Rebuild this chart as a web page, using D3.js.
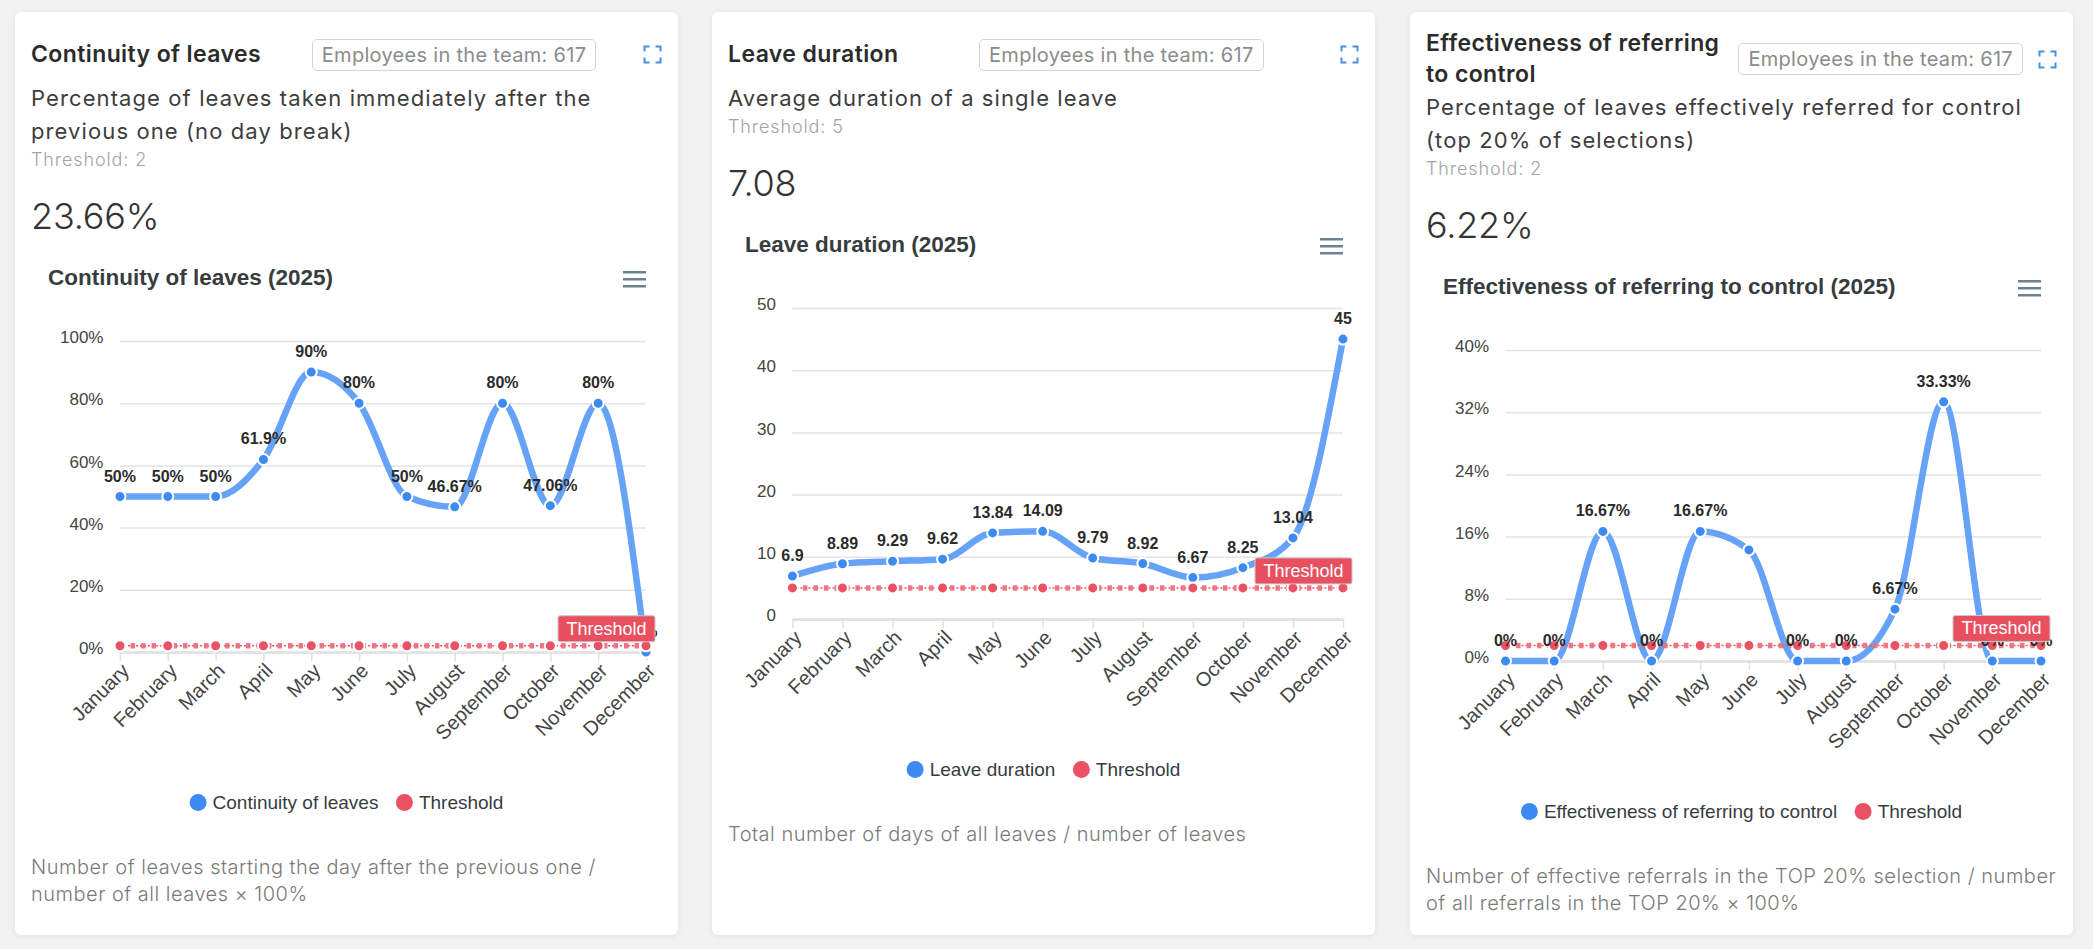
<!DOCTYPE html>
<html>
<head>
<meta charset="utf-8">
<script src="https://cdn.jsdelivr.net/npm/d3@7"></script>
<style>
  body { margin: 0; width: 2093px; height: 949px; overflow: hidden; background: #f2f2f2;
         font-family: Inter, "Open Sans", sans-serif; }
  .card { position: absolute; top: 12px; width: 663px; height: 923px; box-sizing: border-box;
          padding: 16px; background: #fff; border-radius: 6px; box-shadow: 0 1px 6px rgba(0,0,0,0.07); }
  .head { display: flex; align-items: center; justify-content: space-between; min-height: 53px; }
  .title { font-size: 23px; font-weight: 600; line-height: 31px; color: #2b2b2b; margin-right: 4px;
           letter-spacing: 0.4px; }
  .badge { flex: none; height: 32px; box-sizing: border-box; border: 1px solid #d4d4d4; border-radius: 5px;
           padding: 0 9px; font-size: 20px; line-height: 30px; color: #8b8b8b; letter-spacing: 0.3px; }
  .expand { flex: none; }
  .sub { font-size: 22px; line-height: 33px; color: #3d3d3d; margin-top: 1px; letter-spacing: 1.1px; }
  .thr { font-size: 18px; line-height: 24px; color: #a3a3a3; font-weight: 300; letter-spacing: 0.9px; }
  .kpi { font-size: 36px; line-height: 46px; color: #333; font-weight: 300; margin-top: 21px;
         letter-spacing: -0.2px; }
  .foot { font-size: 20px; line-height: 27px; color: #7a7a7a; font-weight: 300; letter-spacing: 0.5px; }
  .chart svg { display: block; font-family: "Liberation Sans", Arial, sans-serif; }
  .ctitle { font-size: 22.5px; font-weight: bold; fill: #373d3f; }
  .ylab text { font-size: 17px; fill: #444; }
  .xlab text { font-size: 20px; fill: #444; }
  .dlab { font-size: 16px; font-weight: bold; fill: #2b2b2b; }
  .legend text { font-size: 19px; fill: #373d3f; }
</style>
</head>
<body>
<script>
// ---- data ----
var months = ["January", "February", "March", "April", "May", "June", "July", "August",
              "September", "October", "November", "December"];

var continuityValues = [50, 50, 50, 61.9, 90, 80, 50, 46.67, 80, 47.06, 80, 0];
var durationValues = [6.9, 8.89, 9.29, 9.62, 13.84, 14.09, 9.79, 8.92, 6.67, 8.25, 13.04, 45];
var referralValues = [0, 0, 16.67, 0, 16.67, 14.29, 0, 0, 6.67, 33.33, 0, 0];

var continuityTicks = [0, 20, 40, 60, 80, 100];
var durationTicks = [0, 10, 20, 30, 40, 50];
var referralTicks = [0, 8, 16, 24, 32, 40];

var thresholds = [2, 5, 2];
var kpiValues = ["23.66%", "7.08", "6.22%"];
var teamSize = 617;

var cardTitles = [["Continuity of leaves"], ["Leave duration"], ["Effectiveness of referring", "to control"]];
var seriesNames = ["Continuity of leaves", "Leave duration", "Effectiveness of referring to control"];
var subtitles = [
    ["Percentage of leaves taken immediately after the", "previous one (no day break)"],
    ["Average duration of a single leave"],
    ["Percentage of leaves effectively referred for control", "(top 20% of selections)"]
];
var footers = [
    ["Number of leaves starting the day after the previous one /", "number of all leaves \u00d7 100%"],
    ["Total number of days of all leaves / number of leaves"],
    ["Number of effective referrals in the TOP 20% selection / number", "of all referrals in the TOP 20% \u00d7 100%"]
];

var charts = [
    {values: continuityValues, ticks: continuityTicks, percent: true},
    {values: durationValues, ticks: durationTicks, percent: false},
    {values: referralValues, ticks: referralTicks, percent: true}
];

var cardLefts = [15, 712, 1410];
var blue = "#3d8bf2", blueLine = "#66a3f8", red = "#ea5162";

function addLines(sel, lines) {
    lines.forEach(function(l, i) {
        if (i > 0) sel.append("br");
        sel.append("span").text(l);
    });
}

function expandIcon(sel) {
    var s = sel.append("svg").attr("class", "expand").attr("width", 19).attr("height", 19);
    s.append("path")
        .attr("d", "M1.5 6.5V1.5H6.5M12.5 1.5H17.5V6.5M17.5 12.5V17.5H12.5M6.5 17.5H1.5V12.5")
        .attr("fill", "none").attr("stroke", "#4a90e2").attr("stroke-width", 2);
}

function drawChart(holder, i) {
    var cfg = charts[i];
    var W = 631, H = 615, top = 102, bottom = 413, right = 615;
    var fmt = cfg.percent ? function(d) { return d + "%"; } : function(d) { return String(d); };
    var thr = thresholds[i];

    var svg = holder.append("svg").attr("width", W).attr("height", H);

    svg.append("text").attr("class", "ctitle").attr("x", 17).attr("y", 46)
        .text(seriesNames[i] + " (2025)");

    var menu = svg.append("g").attr("transform", "translate(592,32)");
    menu.selectAll("rect").data([0, 7, 14]).join("rect")
        .attr("x", 0).attr("y", function(d) { return d; })
        .attr("width", 23).attr("height", 2.5).attr("fill", "#6e8192");

    // width of the widest y label decides where the plot starts
    var tmp = svg.append("g").attr("class", "ylab");
    tmp.selectAll("text").data(cfg.ticks).join("text").text(fmt);
    var lw = d3.max(tmp.selectAll("text").nodes(), function(n) { return n.getComputedTextLength(); });
    tmp.remove();
    var left = 29 + lw + 16.5;

    var x = d3.scalePoint().domain(months).range([left, right]);
    var y = d3.scaleLinear().domain([0, d3.max(cfg.ticks)]).range([bottom, top]);

    var yAxis = svg.append("g").attr("class", "ylab")
        .attr("transform", "translate(" + left + ",0)")
        .call(d3.axisLeft(y).tickValues(cfg.ticks).tickFormat(fmt)
            .tickSize(-(right - left)).tickPadding(16.5));
    yAxis.select(".domain").remove();
    yAxis.selectAll("line").attr("stroke", "#e3e3e3").attr("stroke-width", 1.5);
    yAxis.selectAll("text").attr("dy", "0.1em").attr("fill", "#444");

    var xAxis = svg.append("g").attr("class", "xlab")
        .attr("transform", "translate(0," + bottom + ")")
        .call(d3.axisBottom(x).tickSizeInner(9).tickSizeOuter(0));
    xAxis.select(".domain").attr("stroke", "#e3e3e3").attr("stroke-width", 3);
    xAxis.selectAll("line").attr("stroke", "#e0e0e0").attr("stroke-width", 1.5);
    xAxis.selectAll("text")
        .attr("y", 0).attr("dy", "0.35em").attr("fill", "#444")
        .attr("text-anchor", "end")
        .attr("transform", "translate(5,15) rotate(-45)");

    var line = d3.line()
        .x(function(d, j) { return x(months[j]); })
        .y(function(d) { return y(d); })
        .curve(d3.curveMonotoneX);

    var thrSeries = months.map(function() { return thr; });

    svg.append("path").datum(cfg.values)
        .attr("d", line).attr("fill", "none")
        .attr("stroke", blueLine).attr("stroke-width", 6.5).attr("stroke-linecap", "round");

    // threshold annotation line + threshold series
    svg.append("line")
        .attr("x1", left).attr("x2", right).attr("y1", y(thr)).attr("y2", y(thr))
        .attr("stroke", red).attr("stroke-width", 1.5).attr("stroke-dasharray", "2 2");
    svg.append("path").datum(thrSeries)
        .attr("d", line).attr("fill", "none")
        .attr("stroke", "#ee6a78").attr("stroke-opacity", 0.9)
        .attr("stroke-width", 5.5).attr("stroke-dasharray", "4.5 6");

    svg.append("g").selectAll("circle").data(cfg.values).join("circle")
        .attr("cx", function(d, j) { return x(months[j]); })
        .attr("cy", function(d) { return y(d); })
        .attr("r", 5.5).attr("fill", blue).attr("stroke", "#fff").attr("stroke-width", 2);

    svg.append("g").selectAll("circle").data(thrSeries).join("circle")
        .attr("cx", function(d, j) { return x(months[j]); })
        .attr("cy", function(d) { return y(d); })
        .attr("r", 5.5).attr("fill", red).attr("stroke", "#fff").attr("stroke-width", 2);

    // data labels, skipping any that would collide with one already placed
    var boxes = [];
    var lg = svg.append("g");
    cfg.values.forEach(function(v, j) {
        var px = x(months[j]), by = y(v) - 15;
        var t = lg.append("text").attr("class", "dlab")
            .attr("x", px).attr("y", by).attr("text-anchor", "middle").text(fmt(v));
        var w = t.node().getComputedTextLength();
        var b = {x0: px - w / 2, x1: px + w / 2, y0: by - 16, y1: by + 5};
        var hit = boxes.some(function(o) {
            return b.x0 < o.x1 && b.x1 > o.x0 && b.y0 < o.y1 && b.y1 > o.y0;
        });
        if (hit) t.remove(); else boxes.push(b);
    });

    // annotation label
    var ty = y(thr);
    var ann = svg.append("g");
    ann.append("rect")
        .attr("x", right + 9 - 97).attr("y", ty - 30).attr("width", 97).attr("height", 26)
        .attr("rx", 2).attr("fill", "#e9505f").attr("stroke", "#c8c8c8").attr("stroke-width", 1);
    ann.append("text")
        .attr("x", right + 9 - 48.5).attr("y", ty - 11).attr("text-anchor", "middle")
        .attr("fill", "#fff").style("font-size", "18px").text("Threshold");

    // legend
    var legend = svg.append("g").attr("class", "legend");
    var items = [{name: seriesNames[i], color: blue}, {name: "Threshold", color: red}];
    var xs = 0;
    items.forEach(function(it, k) {
        var g = legend.append("g").attr("transform", "translate(" + xs + ",0)");
        g.append("circle").attr("cx", 8.5).attr("cy", 0).attr("r", 8.5).attr("fill", it.color);
        var t = g.append("text").attr("x", 23).attr("y", 0).attr("dy", "0.35em").text(it.name);
        xs += 23 + t.node().getComputedTextLength() + (k === 0 ? 17.5 : 0);
    });
    legend.attr("transform", "translate(" + (W / 2 - xs / 2) + ",563.5)");
}

var cards = d3.select("body").selectAll(".card").data(charts).join("div")
    .attr("class", "card")
    .style("left", function(d, i) { return cardLefts[i] + "px"; });

cards.each(function(d, i) {
    var card = d3.select(this);
    var head = card.append("div").attr("class", "head");
    addLines(head.append("div").attr("class", "title"), cardTitles[i]);
    head.append("div").attr("class", "badge").append("span").text("Employees in the team: " + teamSize);
    expandIcon(head);
    addLines(card.append("div").attr("class", "sub"), subtitles[i]);
    card.append("div").attr("class", "thr").append("span").text("Threshold: " + thresholds[i]);
    card.append("div").attr("class", "kpi").append("span").text(kpiValues[i]);
    drawChart(card.append("div").attr("class", "chart"), i);
    addLines(card.append("div").attr("class", "foot"), footers[i]);
});
</script>
</body>
</html>
